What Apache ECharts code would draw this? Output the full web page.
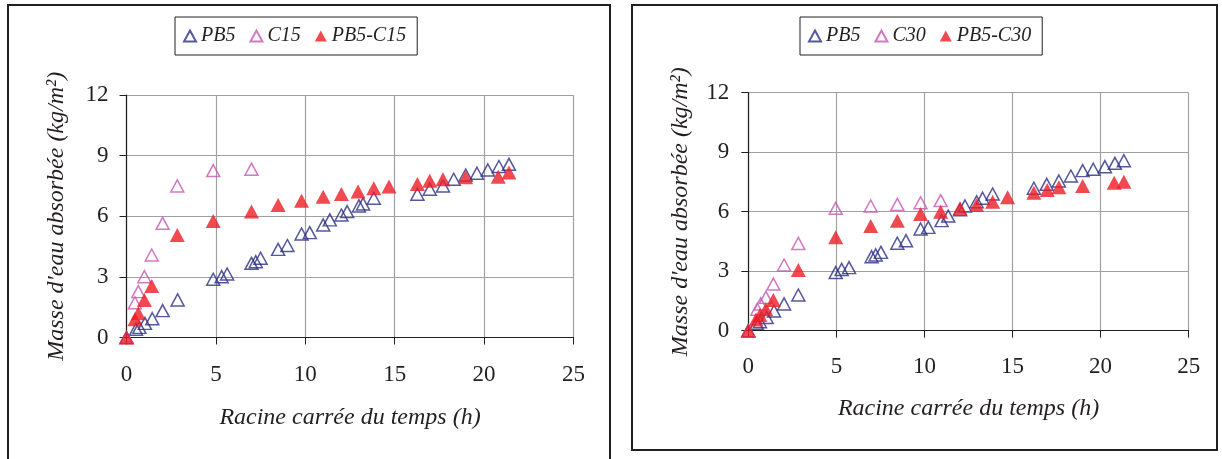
<!DOCTYPE html>
<html><head><meta charset="utf-8">
<script src="https://cdn.jsdelivr.net/npm/echarts@6/dist/echarts.min.js"></script>
<style>html,body{margin:0;padding:0;background:#fff}#c{width:1222px;height:459px}</style>
</head><body><div id="c"></div>
<script>
// ---- data ----
const xTicks = [0, 5, 10, 15, 20, 25];
const yTicks = [0, 3, 6, 9, 12];
const legendLeft = ['PB5', 'C15', 'PB5-C15'];
const legendRight = ['PB5', 'C30', 'PB5-C30'];

const leftPB5X = [0,0.53,0.72,1.03,1.44,2.02,2.86,4.85,5.32,5.63,6.99,7.23,7.5,8.48,9.0,9.79,10.25,11.0,11.37,12.02,12.34,13.0,13.23,13.83,16.27,16.96,17.7,18.3,18.97,19.6,20.21,20.83,21.39];
const leftPB5Y = [0,0.41,0.50,0.70,0.93,1.33,1.86,2.88,3.01,3.14,3.67,3.75,3.92,4.36,4.55,5.12,5.19,5.57,5.82,6.06,6.23,6.51,6.61,6.89,7.09,7.34,7.5,7.83,8.04,8.13,8.29,8.46,8.57];
const leftC15X = [0,0.47,0.66,1.0,1.41,2.02,2.84,4.85,6.99];
const leftC15Y = [0,1.72,2.27,3.01,4.08,5.65,7.5,8.26,8.33];
const leftMixX = [0,0.47,0.66,1.0,1.41,2.84,4.85,6.99,8.48,9.79,11.0,12.02,12.95,13.83,14.68,16.27,16.96,17.7,18.97,20.79,21.39];
const leftMixY = [0,0.9,1.2,1.86,2.55,5.07,5.77,6.23,6.56,6.77,6.97,7.1,7.22,7.39,7.47,7.6,7.76,7.83,7.93,7.96,8.16];

const rightPB5X = [0,0.47,0.66,1.04,1.46,2.03,2.84,4.96,5.3,5.72,7.0,7.23,7.53,8.46,8.95,9.78,10.22,10.97,11.35,12.02,12.3,12.96,13.3,13.87,16.21,16.94,17.63,18.31,18.98,19.58,20.24,20.81,21.32];
const rightPB5Y = [0,0.37,0.45,0.67,0.99,1.35,1.8,2.93,3.09,3.18,3.73,3.82,3.95,4.41,4.54,5.13,5.21,5.55,5.78,6.1,6.29,6.5,6.68,6.89,7.18,7.38,7.55,7.8,8.07,8.14,8.27,8.44,8.57];
const rightC30X = [0,0.51,0.7,1.0,1.42,2.03,2.84,4.96,6.95,8.46,9.78,10.92];
const rightC30Y = [0,1.08,1.35,1.68,2.35,3.31,4.4,6.17,6.29,6.37,6.45,6.56];
const rightMixX = [0,0.44,0.66,1.0,1.42,2.84,4.96,6.95,8.46,9.78,10.92,12.02,12.96,13.87,14.72,16.21,16.97,17.63,18.98,20.77,21.32];
const rightMixY = [0,0.57,0.79,1.08,1.55,3.06,4.71,5.28,5.55,5.88,6.0,6.17,6.34,6.5,6.73,6.96,7.1,7.23,7.3,7.46,7.51];

// ---- build ----
const zip = (xs, ys) => xs.map((x, i) => [x, ys[i]]);
const NAVY = '#2B2E83', PINK = '#C559B4', RED = '#ED1C24';
const FONT = '"Liberation Serif", "Times New Roman", Times, serif';
const INK = '#231f20';

function hollow(name, color, xi, xs, ys) {
  return { name, type: 'scatter', xAxisIndex: xi, yAxisIndex: xi, symbol: 'triangle', symbolSize: [13, 12],
    itemStyle: { color: 'rgba(0,0,0,0)', borderColor: color, borderWidth: 1.5 }, data: zip(xs, ys) };
}
function filled(name, xi, xs, ys) {
  return { name, type: 'scatter', xAxisIndex: xi, yAxisIndex: xi, symbol: 'triangle', symbolSize: [15, 14],
    itemStyle: { color: RED }, data: zip(xs, ys) };
}
function xAxis(gi, margin, gap) {
  return { type: 'value', gridIndex: gi, min: xTicks[0], max: xTicks[xTicks.length - 1], interval: 5,
    name: 'Racine carrée du temps (h)', nameLocation: 'middle', nameGap: gap,
    nameTextStyle: { fontFamily: FONT, fontStyle: 'italic', fontSize: 24, color: INK },
    axisLine: { onZero: false, lineStyle: { color: INK, width: 1.2 } },
    axisTick: { show: true, inside: false, length: 7, lineStyle: { color: INK } },
    axisLabel: { margin, fontFamily: FONT, fontSize: 23, color: INK },
    splitLine: { show: true, lineStyle: { color: '#a0a0a0', width: 1.2 } } };
}
function yAxis(gi, margin, gap) {
  return { type: 'value', gridIndex: gi, min: yTicks[0], max: yTicks[yTicks.length - 1], interval: 3,
    name: "Masse d'eau absorbée (kg/m²)", nameLocation: 'middle', nameGap: gap,
    nameTextStyle: { fontFamily: FONT, fontStyle: 'italic', fontSize: 24, color: INK },
    axisLine: { onZero: false, lineStyle: { color: INK, width: 1.2 } },
    axisTick: { show: true, inside: false, length: 7, lineStyle: { color: INK } },
    axisLabel: { margin, fontFamily: FONT, fontSize: 23, color: INK },
    splitLine: { show: true, lineStyle: { color: '#a0a0a0', width: 1.2 } } };
}
function legend(data, left) {
  return { data, left, top: 17, orient: 'horizontal', padding: [9, 11, 9, 8], itemGap: 14,
    itemWidth: 12, itemHeight: 11, borderColor: INK, borderWidth: 1, backgroundColor: '#fff',
    selectedMode: false,
    textStyle: { fontFamily: FONT, fontStyle: 'italic', fontSize: 20, color: INK } };
}

const chart = echarts.init(document.getElementById('c'), null, { renderer: 'canvas' });
chart.setOption({
  animation: false,
  backgroundColor: '#fff',
  graphic: [
    { type: 'rect', shape: { x: 8, y: 5, width: 602, height: 470 }, style: { fill: 'none', stroke: INK, lineWidth: 2 }, z: -10 },
    { type: 'rect', shape: { x: 632, y: 5, width: 585, height: 445 }, style: { fill: 'none', stroke: INK, lineWidth: 2 }, z: -10 }
  ],
  grid: [
    { left: 126.5, top: 95, width: 447, height: 242.5 },
    { left: 748.3, top: 92.7, width: 440.4, height: 238 }
  ],
  legend: [legend(legendLeft, 175), legend(legendRight, 800)],
  xAxis: [xAxis(0, 26, 68), xAxis(1, 25, 66)],
  yAxis: [yAxis(0, 18, 58), yAxis(1, 19, 56)],
  series: [
    hollow('PB5', NAVY, 0, leftPB5X, leftPB5Y),
    hollow('C15', PINK, 0, leftC15X, leftC15Y),
    filled('PB5-C15', 0, leftMixX, leftMixY),
    hollow('PB5', NAVY, 1, rightPB5X, rightPB5Y),
    hollow('C30', PINK, 1, rightC30X, rightC30Y),
    filled('PB5-C30', 1, rightMixX, rightMixY)
  ]
});
</script></body></html>
